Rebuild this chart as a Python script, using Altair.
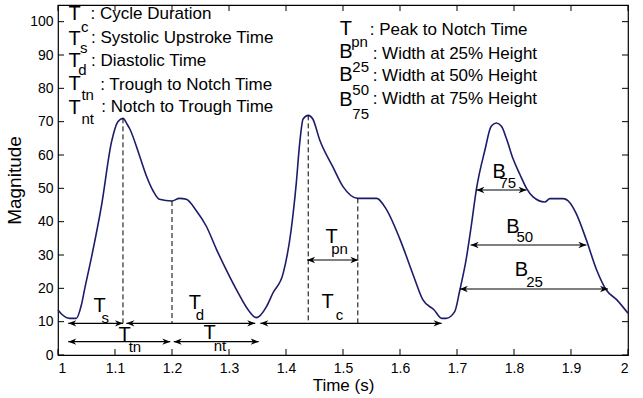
import altair as alt
import pandas as pd

# ---------------- data ----------------
time_s = [1.000, 1.008, 1.020, 1.032, 1.041, 1.047, 1.059, 1.076, 1.094, 1.105, 1.114,
          1.121, 1.126, 1.143, 1.155, 1.167, 1.178, 1.200, 1.213, 1.225, 1.243, 1.260,
          1.278, 1.295, 1.313, 1.336, 1.348, 1.366, 1.377, 1.395, 1.409, 1.418, 1.424,
          1.430, 1.439, 1.447, 1.459, 1.482, 1.500, 1.526, 1.559, 1.576, 1.600, 1.623,
          1.640, 1.660, 1.673, 1.681, 1.696, 1.705, 1.716, 1.725, 1.734, 1.749, 1.760,
          1.769, 1.778, 1.787, 1.798, 1.810, 1.822, 1.833, 1.854, 1.863, 1.886, 1.898,
          1.909, 1.927, 1.945, 1.962, 1.980, 2.000]
magnitude = [13.5, 12.0, 11.0, 11.0, 15.0, 20.0, 29.5, 44.5, 64.0, 70.0, 71.0,
             69.3, 67.8, 59.8, 53.8, 49.2, 46.7, 46.2, 47.0, 46.7, 43.2, 38.7,
             31.7, 25.6, 19.6, 13.0, 11.2, 14.6, 18.6, 24.5, 37.5, 51.5, 63.5,
             70.8, 71.9, 70.8, 64.6, 56.5, 50.5, 47.0, 47.0, 43.7, 34.7, 24.1,
             16.6, 13.5, 11.0, 11.0, 13.0, 19.5, 28.6, 38.7, 49.7, 61.5, 68.6,
             69.6, 68.6, 64.8, 59.0, 54.3, 50.0, 47.5, 45.9, 46.9, 46.9, 45.7,
             42.5, 34.5, 25.5, 19.5, 16.6, 12.5]

x_ticks = [1, 1.1, 1.2, 1.3, 1.4, 1.5, 1.6, 1.7, 1.8, 1.9, 2]
y_ticks = [0, 10, 20, 30, 40, 50, 60, 70, 80, 90, 100]

# dashed marker lines
dash_t = [1.114, 1.200, 1.439, 1.526]
dash_top = [71.0, 46.2, 71.9, 47.0]
dash_bottom = [9.5, 9.5, 9.5, 9.5]

# double-headed arrows
arrow_names = ["Ts", "Td", "Tc", "Ttn", "Tnt", "Tpn", "B75", "B50", "B25"]
arrow_start = [1.018, 1.120, 1.355, 1.018, 1.203, 1.437, 1.734, 1.724, 1.705]
arrow_end = [1.114, 1.346, 1.673, 1.197, 1.352, 1.527, 1.822, 1.927, 1.965]
arrow_level = [9.5, 9.5, 9.5, 4.0, 4.0, 28.5, 49.5, 33.0, 19.8]

# big letters (T / B)
big_text = ["T", "T", "T", "T", "T", "T", "B", "B", "B",
            "T", "T", "T", "T", "T", "T", "B", "B", "B"]
big_t = [1.029, 1.029, 1.029, 1.029, 1.029, 1.505, 1.505, 1.505, 1.505,
         1.073, 1.240, 1.473, 1.117, 1.266, 1.480, 1.774, 1.798, 1.813]
big_v = [102.3, 94.8, 88.2, 81.2, 74.2, 97.8, 91.0, 83.9, 76.4,
         14.8, 15.7, 16.0, 6.0, 6.6, 35.5, 55.0, 38.5, 25.5]

# subscripts
sub_text = ["c", "s", "d", "tn", "nt", "pn", "25", "50", "75",
            "s", "d", "c", "tn", "nt", "pn", "75", "50", "25"]
sub_t = [1.047, 1.045, 1.043, 1.052, 1.052, 1.529, 1.531, 1.531, 1.531,
         1.083, 1.249, 1.494, 1.135, 1.284, 1.494, 1.789, 1.819, 1.836]
sub_v = [98.5, 92.0, 85.4, 77.9, 70.8, 94.0, 86.4, 79.4, 72.4,
         11.2, 12.0, 12.0, 2.4, 2.7, 31.7, 51.5, 35.5, 22.0]

# descriptions
desc_text = [": Cycle Duration", ": Systolic Upstroke Time", ": Diastolic Time",
             ": Trough to Notch Time", ": Notch to Trough Time",
             ": Peak to Notch Time", ": Width at 25% Height",
             ": Width at 50% Height", ": Width at 75% Height"]
desc_t = [1.057, 1.058, 1.058, 1.074, 1.076, 1.547, 1.552, 1.552, 1.552]
desc_v = [102.2, 95.0, 88.1, 81.1, 74.4, 97.5, 90.4, 83.7, 76.9]

# ---------------- frames ----------------
W, H = 570, 350
FONT = "Liberation Sans"
xs = alt.Scale(domain=[1, 2], nice=False, zero=False)
ys = alt.Scale(domain=[0, 105], nice=False, zero=False)

wave = pd.DataFrame({"t": time_s, "v": magnitude})
dash = pd.DataFrame({"t": dash_t, "top": dash_top, "bottom": dash_bottom})
arrows = pd.DataFrame({"name": arrow_names, "start": arrow_start,
                       "end": arrow_end, "level": arrow_level})
heads = pd.DataFrame({
    "t": arrow_start + arrow_end,
    "level": arrow_level + arrow_level,
    "angle": [180] * len(arrow_start) + [0] * len(arrow_end),
})
big = pd.DataFrame({"t": big_t, "v": big_v, "label": big_text})
sub = pd.DataFrame({"t": sub_t, "v": sub_v, "label": sub_text})
desc = pd.DataFrame({"t": desc_t, "v": desc_v, "label": desc_text})
xt = pd.DataFrame({"t": x_ticks})
yt = pd.DataFrame({"v": y_ticks})

x_axis = alt.Axis(values=x_ticks, title="Time (s)", format="~g",
                  ticks=False, grid=False, domain=False, labelOverlap=False,
                  labelPadding=6, titlePadding=2)
y_axis = alt.Axis(values=y_ticks, title="Magnitude", format="d",
                  ticks=False, grid=False, domain=False, labelOverlap=False,
                  labelPadding=5, titlePadding=5)


def X(field):
    return alt.X(field, scale=xs, axis=x_axis)


def Y(field):
    return alt.Y(field, scale=ys, axis=y_axis)


line = alt.Chart(wave).mark_line(color="#1c1c6b", strokeWidth=1.6,
                                 interpolate="monotone").encode(
    x=X("t:Q"), y=Y("v:Q"))

dashed = alt.Chart(dash).mark_rule(color="black", strokeDash=[5, 3],
                                   strokeWidth=1).encode(
    x=X("t:Q"), y=Y("top:Q"), y2="bottom:Q")

arrow_lines = alt.Chart(arrows).mark_rule(color="black", strokeWidth=1.2).encode(
    x=X("start:Q"), x2="end:Q", y=Y("level:Q"))

head_shape = "M0,0L-2,-0.8L-1.4,0L-2,0.8Z"
arrow_heads = alt.Chart(heads).mark_point(
    shape=head_shape, filled=True, color="black", opacity=1, size=64,
    strokeWidth=0).encode(
    x=X("t:Q"), y=Y("level:Q"),
    angle=alt.Angle("angle:Q", scale=None))

big_layer = alt.Chart(big).mark_text(
    font=FONT, fontSize=20, color="black", align="center",
    baseline="middle").encode(x=X("t:Q"), y=Y("v:Q"), text="label:N")

sub_layer = alt.Chart(sub).mark_text(
    font=FONT, fontSize=15, color="black", align="center",
    baseline="middle").encode(x=X("t:Q"), y=Y("v:Q"), text="label:N")

desc_layer = alt.Chart(desc).mark_text(
    font=FONT, fontSize=17, color="black", align="left",
    baseline="middle").encode(x=X("t:Q"), y=Y("v:Q"), text="label:N")

tick_len = 6
bottom_ticks = alt.Chart(xt).mark_rule(color="black").encode(
    x=X("t:Q"), y=alt.value(H), y2=alt.value(H - tick_len))
top_ticks = alt.Chart(xt).mark_rule(color="black").encode(
    x=X("t:Q"), y=alt.value(0), y2=alt.value(tick_len))
left_ticks = alt.Chart(yt).mark_rule(color="black").encode(
    y=Y("v:Q"), x=alt.value(0), x2=alt.value(tick_len))
right_ticks = alt.Chart(yt).mark_rule(color="black").encode(
    y=Y("v:Q"), x=alt.value(W), x2=alt.value(W - tick_len))

chart = alt.layer(
    line, dashed, arrow_lines, arrow_heads, big_layer, sub_layer, desc_layer,
    bottom_ticks, top_ticks, left_ticks, right_ticks
).properties(
    width=W, height=H,
    autosize=alt.AutoSizeParams(type="none"),
    padding={"left": 58, "top": 5, "right": 15, "bottom": 43},
    background="white",
).configure_view(
    stroke="black", strokeWidth=1.2
).configure_axis(
    labelFont=FONT, labelFontSize=14, labelColor="black",
    titleFont=FONT, titleFontSize=17, titleColor="black",
    titleFontWeight="normal",
).configure_axisY(
    titleFontSize=19
)

chart.save("out.html", embed_options={"renderer": "svg", "actions": False})
